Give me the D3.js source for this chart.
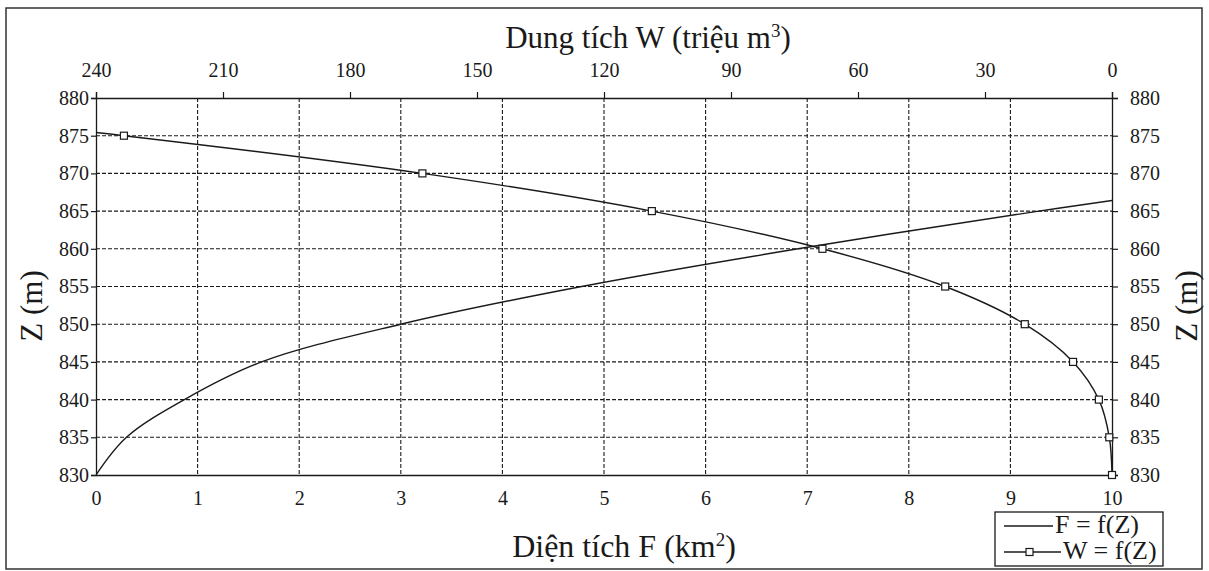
<!DOCTYPE html>
<html><head><meta charset="utf-8">
<script src="https://cdn.jsdelivr.net/npm/d3@7"></script>
<style>
html,body{margin:0;padding:0;background:#fff;}
text{font-family:"Liberation Serif","Times New Roman",serif;fill:#1a1a1a;}
</style></head>
<body>
<svg id="chart" width="1209" height="571"></svg>
<script>
// ---- data ----
const zF = [830, 835, 840, 845, 850, 855, 860, 865, 866.4];
const fVals = [0, 0.30, 0.87, 1.63, 3.0, 4.78, 6.91, 9.28, 10];
const zW = [830, 835, 840, 845, 850, 855, 860, 865, 870, 875, 876];
const wVals = [0, 0.64, 3.1, 9.2, 20.6, 39.4, 68.4, 108.7, 162.9, 233.4, 250];
const fTicks = [0,1,2,3,4,5,6,7,8,9,10];
const wTicks = [240,210,180,150,120,90,60,30,0];
const zTicks = [830,835,840,845,850,855,860,865,870,875,880];
const legendLabels = ["F = f(Z)", "W = f(Z)"];

const svg = d3.select("#chart");
const L = 96, R = 1112, T = 98, B = 475;
const xF = d3.scaleLinear().domain([0,10]).range([L,R]);
const xW = d3.scaleLinear().domain([240,0]).range([L,R]);
const y = d3.scaleLinear().domain([830,880]).range([B,T]);
const ink = "#1a1a1a";

// outer frame
svg.append("rect").attr("x",6).attr("y",8).attr("width",1196).attr("height",561)
  .attr("fill","none").attr("stroke","#333").attr("stroke-width",1.5);

// grid
const g = svg.append("g");
g.selectAll(".vg").data(fTicks.filter(d=>d>0&&d<10)).join("line")
  .attr("x1",d=>xF(d)).attr("x2",d=>xF(d)).attr("y1",T).attr("y2",B)
  .attr("stroke",ink).attr("stroke-width",1.1).attr("stroke-dasharray","4,2");
g.selectAll(".hg").data(zTicks.filter(d=>d>830&&d<880)).join("line")
  .attr("x1",L).attr("x2",R).attr("y1",d=>y(d)).attr("y2",d=>y(d))
  .attr("stroke",ink).attr("stroke-width",1.1).attr("stroke-dasharray","4,2");

// axes
const fs = "20px";
const axLeft = svg.append("g").attr("transform",`translate(${L},0)`)
  .call(d3.axisLeft(y).tickValues(zTicks).tickSize(5).tickPadding(2).tickFormat(d3.format("d")));
const axRight = svg.append("g").attr("transform",`translate(${R},0)`)
  .call(d3.axisRight(y).tickValues(zTicks).tickSize(6).tickPadding(12).tickFormat(d3.format("d")));
const axTop = svg.append("g").attr("transform",`translate(0,${T})`)
  .call(d3.axisTop(xW).tickValues(wTicks).tickSize(6).tickPadding(15).tickFormat(d3.format("d")));
const axBottom = svg.append("g").attr("transform",`translate(0,${B})`)
  .call(d3.axisBottom(xF).tickValues(fTicks).tickSize(0).tickPadding(16).tickFormat(d3.format("d")));
[axLeft,axRight,axTop,axBottom].forEach(a=>{
  a.attr("font-family",null).attr("font-size",null);
  a.selectAll("path.domain").attr("stroke",ink).attr("stroke-width",1.3);
  a.selectAll(".tick line").attr("stroke",ink).attr("stroke-width",1.2);
  a.selectAll("text").attr("font-family","Liberation Serif, serif")
    .style("font-family",'"Liberation Serif",serif').style("font-size",fs).attr("fill",ink);
});

// titles
const t1 = svg.append("text").attr("x",648).attr("y",48).attr("text-anchor","middle").style("font-size","31px");
t1.append("tspan").text("Dung tích W (triệu m");
t1.append("tspan").text("3").attr("dy",-11).style("font-size","19px");
t1.append("tspan").text(")").attr("dy",11);
const t2 = svg.append("text").attr("x",624).attr("y",557).attr("text-anchor","middle").style("font-size","32px");
t2.append("tspan").text("Diện tích F (km");
t2.append("tspan").text("2").attr("dy",-11).style("font-size","19px");
t2.append("tspan").text(")").attr("dy",11);
svg.append("text").attr("transform","translate(42,306) rotate(-90)").attr("text-anchor","middle")
  .style("font-size","31px").text("Z (m)");
svg.append("text").attr("transform","translate(1197,306) rotate(-90)").attr("text-anchor","middle")
  .style("font-size","31px").text("Z (m)");

// clip
svg.append("clipPath").attr("id","clip").append("rect").attr("x",L).attr("y",T).attr("width",R-L).attr("height",B-T);

// F line
const fData = zF.map((z,i)=>({z, v:fVals[i]}));
svg.append("path").datum(fData).attr("clip-path","url(#clip)")
  .attr("d", d3.line().x(d=>xF(d.v)).y(d=>y(d.z)).curve(d3.curveCatmullRom.alpha(0.5)))
  .attr("fill","none").attr("stroke",ink).attr("stroke-width",1.4);

// W line
const wData = zW.map((z,i)=>({z, v:wVals[i]}));
const wg = svg.append("g").attr("clip-path","url(#clip)");
wg.append("path").datum(wData)
  .attr("d", d3.line().x(d=>xW(d.v)).y(d=>y(d.z)).curve(d3.curveCatmullRom.alpha(0.5)))
  .attr("fill","none").attr("stroke",ink).attr("stroke-width",1.4);
const mk = svg.append("g");
mk.selectAll("rect").data(wData.filter(d=>d.v<=240)).join("rect")
  .attr("x",d=>xW(d.v)-3.5).attr("y",d=>y(d.z)-3.5).attr("width",7).attr("height",7)
  .attr("fill","#fff").attr("stroke",ink).attr("stroke-width",1.2);

// legend
const lg = svg.append("g");
lg.append("rect").attr("x",995).attr("y",512).attr("width",168).attr("height",54)
  .attr("fill","#fff").attr("stroke",ink).attr("stroke-width",1.3);
const legX2 = [1053, 1061];
legendLabels.forEach((lab,i)=>{
  const yy = 526 + i*26;
  lg.append("line").attr("x1",1004).attr("x2",legX2[i]).attr("y1",yy).attr("y2",yy)
    .attr("stroke",ink).attr("stroke-width",1.3);
  if(i===1) lg.append("rect").attr("x",1026).attr("y",yy-3.5).attr("width",7).attr("height",7)
    .attr("fill","#fff").attr("stroke",ink).attr("stroke-width",1.2);
  lg.append("text").attr("x",legX2[i]+2).attr("y",yy+7).style("font-size","26px").text(lab);
});
</script>
</body></html>
